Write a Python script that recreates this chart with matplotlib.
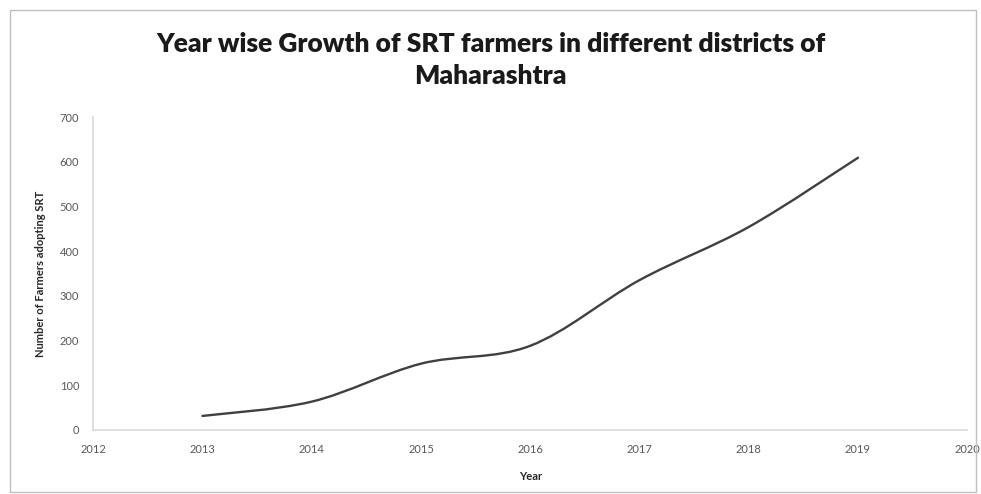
import matplotlib
matplotlib.use("Agg")
import matplotlib.pyplot as plt
from matplotlib.path import Path
from matplotlib.patches import PathPatch, Rectangle
import numpy as np

# data
years = [2013, 2014, 2015, 2016, 2017, 2018, 2019]
farmers = [31, 63, 148, 188, 335, 454, 609]
x_ticks = [2012, 2013, 2014, 2015, 2016, 2017, 2018, 2019, 2020]
y_ticks = [0, 100, 200, 300, 400, 500, 600, 700]

title = "Year wise Growth of SRT farmers in different districts of\nMaharashtra"
x_label = "Year"
y_label = "Number of Farmers adopting SRT"

plt.rcParams['font.family'] = ['Lato', 'DejaVu Sans']

fig = plt.figure(figsize=(9.81, 4.94), dpi=100)
ax = fig.add_axes([0.095, 0.130, 0.891, 0.633])

# excel style smoothed line: cubic bezier through the data points
px = np.array(years, dtype=float)
py = np.array(farmers, dtype=float)
verts = [(px[0], py[0])]
codes = [Path.MOVETO]
n = len(px)
for i in range(n - 1):
    p0 = (px[max(i - 1, 0)], py[max(i - 1, 0)])
    p1 = (px[i], py[i])
    p2 = (px[i + 1], py[i + 1])
    p3 = (px[min(i + 2, n - 1)], py[min(i + 2, n - 1)])
    c1 = (p1[0] + (p2[0] - p0[0]) / 6, p1[1] + (p2[1] - p0[1]) / 6)
    c2 = (p2[0] - (p3[0] - p1[0]) / 6, p2[1] - (p3[1] - p1[1]) / 6)
    verts += [c1, c2, p2]
    codes += [Path.CURVE4] * 3
ax.add_patch(PathPatch(Path(verts, codes), facecolor="none",
                       edgecolor="#404040", lw=1.7, capstyle="round"))

ax.set_xlim(2012, 2020)
ax.set_ylim(0, 700)
ax.set_xticks(x_ticks)
ax.set_yticks(y_ticks)
ax.tick_params(length=0, labelsize=8, colors="#595959", pad=10)
for s in ["top", "right"]:
    ax.spines[s].set_visible(False)
for s in ["left", "bottom"]:
    ax.spines[s].set_color("#d9d9d9")
    ax.spines[s].set_linewidth(1.2)

ax.set_xlabel(x_label, fontsize=8, fontweight="bold", color="#262626", labelpad=12)
ax.set_ylabel(y_label, fontsize=8, fontweight="bold", color="#262626", labelpad=10)

fig.text(0.5, 0.935, title, ha="center", va="top", fontsize=19,
         fontweight="heavy", color="#1a1a1a", linespacing=1.4)

fig.patches.append(Rectangle((0.01, 0.005), 0.985, 0.975, transform=fig.transFigure,
                             fill=False, edgecolor="#bfbfbf", lw=1))

fig.savefig("out.png", dpi=100)
